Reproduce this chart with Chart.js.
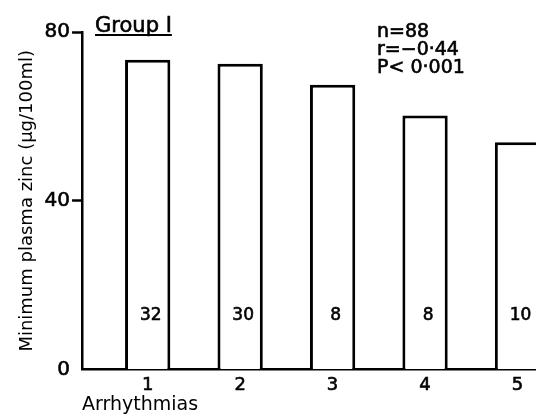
<!DOCTYPE html>
<html>
<head>
<meta charset="utf-8">
<script src="https://cdn.jsdelivr.net/npm/chart.js@4"></script>
<style>
  html, body { margin: 0; padding: 0; background: #fff; overflow: hidden; }
  #wrap { width: 536px; height: 416px; position: relative; }
</style>
</head>
<body>
<div id="wrap"><canvas id="c" width="536" height="416"></canvas></div>
<script>
// ---- data ----
const categories = [1, 2, 3, 4, 5];
const zincValues = [73.4, 72.5, 67.5, 60.2, 53.9];
const patientCounts = ['32', '30', '8', '8', '10'];
const yTickValues = [0, 40, 80];
const titleText = 'Group I';
const statsLines = ['n=88', 'r=\u22120\u00b744', 'P< 0\u00b7001'];
const yAxisTitle = 'Minimum plasma zinc (\u03bcg/100ml)';
const xAxisTitle = 'Arrhythmias';

const FONT = "'DejaVu Sans', sans-serif";
const W = 'normal';
const STROKE = 0.6;

function drawText(ctx, s, x, y) {
  ctx.fillText(s, x, y);
  ctx.strokeText(s, x, y);
}

const decorPlugin = {
  id: 'decor',
  afterDraw(chart) {
    const ctx = chart.ctx;
    const area = chart.chartArea;
    const ys = chart.scales.y;
    ctx.save();
    ctx.fillStyle = '#000';
    ctx.strokeStyle = '#000';
    ctx.lineWidth = STROKE;
    // title with underline
    ctx.font = W + ' 21px ' + FONT;
    ctx.textBaseline = 'alphabetic';
    ctx.textAlign = 'left';
    const tx = area.left + 13, ty = 32;
    drawText(ctx, titleText, tx, ty);
    const w = ctx.measureText(titleText).width;
    ctx.lineWidth = 2;
    ctx.beginPath();
    ctx.moveTo(tx, ty + 3);
    ctx.lineTo(tx + w, ty + 3);
    ctx.stroke();
    ctx.lineWidth = STROKE;
    // stats
    ctx.font = W + ' 19px ' + FONT;
    statsLines.forEach((s, i) => drawText(ctx, s, 377, 37 + i * 18));
    // counts inside bars
    ctx.font = W + ' 17px ' + FONT;
    ctx.textAlign = 'center';
    ctx.textBaseline = 'middle';
    const meta = chart.getDatasetMeta(0);
    meta.data.forEach((bar, i) => {
      drawText(ctx, patientCounts[i], bar.x + 3, ys.getPixelForValue(12.8));
    });
    ctx.restore();
  }
};

new Chart(document.getElementById('c'), {
  type: 'bar',
  data: {
    datasets: [{
      data: categories.map((c, i) => ({ x: c, y: zincValues[i] })),
      backgroundColor: '#fff',
      borderColor: '#000',
      borderWidth: 3,
      barPercentage: 0.49,
      categoryPercentage: 1
    }]
  },
  options: {
    responsive: false,
    animation: false,
    devicePixelRatio: 1,
    layout: { padding: { top: 32, right: 0, left: 17, bottom: 0 } },
    plugins: { legend: { display: false }, tooltip: { enabled: false } },
    scales: {
      x: {
        type: 'linear',
        min: 0.29,
        max: 5.2,
        offset: false,
        afterBuildTicks: s => { s.ticks = categories.map(v => ({ value: v })); },
        grid: { display: false },
        border: { display: true, color: '#000', width: 2.5 },
        ticks: { color: '#000', textStrokeColor: '#000', textStrokeWidth: STROKE, font: { family: FONT, size: 18, weight: W }, padding: -3, maxRotation: 0 },
        title: { display: true, text: xAxisTitle, align: 'start', color: '#000', font: { family: FONT, size: 19, weight: W }, padding: { top: 0, bottom: 0 } }
      },
      y: {
        min: 0,
        max: 80,
        afterBuildTicks: s => { s.ticks = yTickValues.map(v => ({ value: v })); },
        grid: {
          display: true,
          drawOnChartArea: false,
          drawTicks: true,
          tickLength: 10,
          tickWidth: 2.5,
          tickColor: c => (c.tick && c.tick.value === 0) ? 'rgba(0,0,0,0)' : '#000'
        },
        border: { display: true, color: '#000', width: 2.5 },
        ticks: { color: '#000', textStrokeColor: '#000', textStrokeWidth: STROKE, font: { family: FONT, size: 20, weight: W }, padding: 2 },
        title: { display: true, text: yAxisTitle, color: '#000', font: { family: FONT, size: 18, weight: W }, padding: { top: 0, bottom: 4 } }
      }
    }
  },
  plugins: [decorPlugin]
});
</script>
</body>
</html>
